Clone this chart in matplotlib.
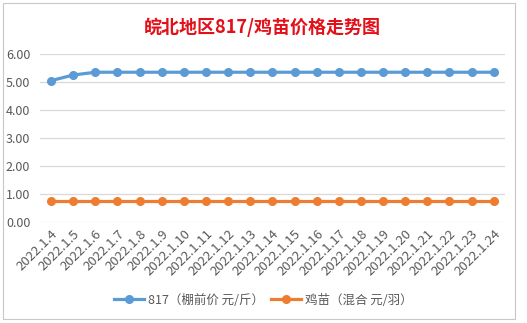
import matplotlib
matplotlib.use("Agg")
import matplotlib.pyplot as plt
from matplotlib.patches import Rectangle

plt.rcParams['font.family'] = ['Noto Sans CJK SC', 'DejaVu Sans']

dates = ["2022.1.4", "2022.1.5", "2022.1.6", "2022.1.7", "2022.1.8", "2022.1.9",
         "2022.1.10", "2022.1.11", "2022.1.12", "2022.1.13", "2022.1.14", "2022.1.15",
         "2022.1.16", "2022.1.17", "2022.1.18", "2022.1.19", "2022.1.20", "2022.1.21",
         "2022.1.22", "2022.1.23", "2022.1.24"]
price_817 = [5.05, 5.25, 5.35, 5.35, 5.35, 5.35, 5.35, 5.35, 5.35, 5.35, 5.35,
             5.35, 5.35, 5.35, 5.35, 5.35, 5.35, 5.35, 5.35, 5.35, 5.35]
price_chick = [0.75] * 21
series_names = ["817（棚前价 元/斤）", "鸡苗（混合 元/羽）"]
title = "皖北地区817/鸡苗价格走势图"
yticks = [0, 1, 2, 3, 4, 5, 6]

fig = plt.figure(figsize=(5.27, 3.23), dpi=100)
fig.patch.set_facecolor('white')
fig.patches.append(Rectangle((0.006, 0.012), 0.972, 0.978, transform=fig.transFigure,
                             fill=False, edgecolor='#C8C8C8', linewidth=0.8))

ax = fig.add_axes([0.0759, 0.3127, 0.882, 0.520])
x = list(range(len(dates)))
ax.plot(x, price_817, color='#5B9BD5', linewidth=2.3, marker='o', markersize=5.5,
        label=series_names[0], zorder=3)
ax.plot(x, price_chick, color='#ED7D31', linewidth=2.3, marker='o', markersize=5.5,
        label=series_names[1], zorder=3)

ax.set_xlim(-0.5, len(dates) - 0.5)
ax.set_ylim(0, 6)
ax.set_yticks(yticks)
ax.set_yticklabels([f"{v:.2f}" for v in yticks], color='#595959', fontsize=9,
                   fontweight='light')
ax.set_xticks(x)
ax.set_xticklabels(dates, rotation=45, ha='right', rotation_mode='anchor',
                   color='#595959', fontsize=9.5, fontweight='light')
ax.tick_params(axis='both', length=0)
ax.tick_params(axis='x', pad=4)
ax.tick_params(axis='y', pad=7)
ax.grid(axis='y', color='#D9D9D9', linewidth=0.9)
ax.set_axisbelow(True)
for s in ax.spines.values():
    s.set_visible(False)

fig.text(0.497, 0.915, title, ha='center', va='center', color='#E3101A',
         fontsize=13, fontweight='bold')

leg = fig.legend(loc='center', bbox_to_anchor=(0.5, 0.071), ncol=2, frameon=False,
                 fontsize=9, labelcolor='#595959', handlelength=2.4, columnspacing=0.6,
                 handletextpad=0.3)
for t in leg.get_texts():
    t.set_fontweight('light')

fig.savefig("out.png", dpi=100)
